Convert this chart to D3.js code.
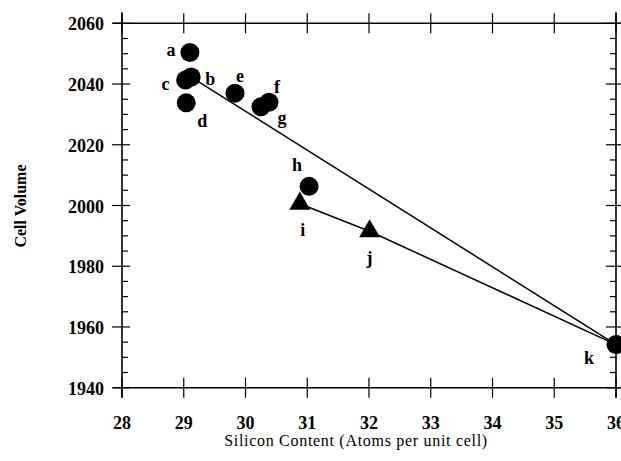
<!DOCTYPE html>
<html>
<head>
<meta charset="utf-8">
<script src="https://cdn.jsdelivr.net/npm/d3@7"></script>
<style>
  body { margin: 0; background: #fff; }
  svg { display: block; }
</style>
</head>
<body>
<svg id="chart" width="621" height="461"></svg>
<script>
// point data
const labels = ['a', 'b', 'c', 'd', 'e', 'f', 'g', 'h', 'i', 'j', 'k'];
const silicon = [29.10, 29.12, 29.03, 29.04, 29.83, 30.38, 30.25, 31.03, 30.88, 32.01, 36.0];
const volume = [2050.4, 2042.3, 2041.3, 2033.8, 2037.0, 2034.0, 2032.5, 2006.3, 2000.6, 1991.5, 1954.2];
const shapes = ['circle', 'circle', 'circle', 'circle', 'circle', 'circle', 'circle', 'circle', 'triangle', 'triangle', 'circle'];

// the two fitted lines, by point label
const lineB = ['b', 'k'];
const lineI = ['i', 'j', 'k'];

const xTicks = [28, 29, 30, 31, 32, 33, 34, 35, 36];
const yTicks = [1940, 1960, 1980, 2000, 2020, 2040, 2060];

// where each letter sits relative to its marker (px)
const labelOffsets = [[-19, -2], [19, 2], [-20, 4], [16, 18], [5, -17], [8, -15], [21, 11], [-12, -21], [3, 26], [0, 27], [-27, 13]];

const points = labels.map((l, i) => ({ label: l, x: silicon[i], y: volume[i], shape: shapes[i], off: labelOffsets[i] }));
const byLabel = (l) => points.find((p) => p.label === l);

const svg = d3.select('#chart');
const serif = '"Liberation Serif", "Times New Roman", serif';

const x = d3.scaleLinear().domain([28, 36]).range([122, 616]);
const y = d3.scaleLinear().domain([1940, 2060]).range([387.7, 23.3]);

const x0 = x.range()[0], x1 = x.range()[1];
const yb = y.range()[0], yt = y.range()[1];

const frame = svg.append('g').attr('stroke', '#000').attr('fill', 'none');

// axis lines (top and bottom run a bit left of the frame)
frame.append('line').attr('x1', x0 - 9).attr('x2', 621).attr('y1', yt).attr('y2', yt).attr('stroke-width', 1.6);
frame.append('line').attr('x1', x0 - 9).attr('x2', 621).attr('y1', yb).attr('y2', yb).attr('stroke-width', 1.6);
frame.append('line').attr('x1', x0).attr('x2', x0).attr('y1', yt - 11).attr('y2', yb + 10).attr('stroke-width', 1.6);
frame.append('line').attr('x1', x1).attr('x2', x1).attr('y1', yt - 11).attr('y2', yb + 10).attr('stroke-width', 1.6);

// major x ticks crossing top and bottom
xTicks.forEach((t) => {
  [yt, yb].forEach((yy) => {
    frame.append('line').attr('x1', x(t)).attr('x2', x(t)).attr('y1', yy - 10).attr('y2', yy + 10).attr('stroke-width', 1.2);
  });
});

// y ticks: major cross, minor inside
d3.range(1940, 2061, 5).forEach((t) => {
  const major = t % 20 === 0;
  frame.append('line').attr('x1', major ? x0 - 10 : x0).attr('x2', x0 + (major ? 8 : 6))
    .attr('y1', y(t)).attr('y2', y(t)).attr('stroke-width', 1.2);
  frame.append('line').attr('x1', x1 - (major ? 10 : 6)).attr('x2', major ? x1 + 8 : x1)
    .attr('y1', y(t)).attr('y2', y(t)).attr('stroke-width', 1.2);
});

// tick labels
svg.append('g').selectAll('text')
  .data(xTicks)
  .enter()
  .append('text')
  .attr('x', (d) => x(d))
  .attr('y', 429)
  .attr('text-anchor', 'middle')
  .style('font-family', serif)
  .style('font-weight', 'bold')
  .style('font-size', '18px')
  .text((d) => d);

svg.append('g').selectAll('text')
  .data(yTicks)
  .enter()
  .append('text')
  .attr('x', 104)
  .attr('y', (d) => y(d) + 7)
  .attr('text-anchor', 'end')
  .style('font-family', serif)
  .style('font-weight', 'bold')
  .style('font-size', '18px')
  .text((d) => d);

// axis titles
svg.append('text')
  .attr('x', 356)
  .attr('y', 446)
  .attr('text-anchor', 'middle')
  .style('font-family', serif)
  .style('font-size', '16px')
  .style('letter-spacing', '0.7px')
  .text('Silicon Content (Atoms per unit cell)');

svg.append('text')
  .attr('transform', 'translate(26, 206) rotate(-90)')
  .attr('text-anchor', 'middle')
  .style('font-family', serif)
  .style('font-weight', 'bold')
  .style('font-size', '16px')
  .text('Cell Volume');

// lines
const line = d3.line().x((d) => x(d.x)).y((d) => y(d.y));
[lineB, lineI].forEach((ls) => {
  svg.append('path')
    .attr('d', line(ls.map(byLabel)))
    .attr('fill', 'none')
    .attr('stroke', '#000')
    .attr('stroke-width', 1.5);
});

// markers
svg.append('g').selectAll('circle')
  .data(points.filter((p) => p.shape === 'circle'))
  .enter()
  .append('circle')
  .attr('cx', (d) => x(d.x))
  .attr('cy', (d) => y(d.y))
  .attr('r', 9.5)
  .attr('fill', '#000');

svg.append('g').selectAll('path')
  .data(points.filter((p) => p.shape === 'triangle'))
  .enter()
  .append('path')
  .attr('d', d3.symbol(d3.symbolTriangle, 190))
  .attr('transform', (d) => `translate(${x(d.x)}, ${y(d.y)})`)
  .attr('fill', '#000');

// point letters
svg.append('g').selectAll('text')
  .data(points)
  .enter()
  .append('text')
  .attr('x', (d) => x(d.x) + d.off[0])
  .attr('y', (d) => y(d.y) + d.off[1])
  .attr('text-anchor', 'middle')
  .attr('dominant-baseline', 'central')
  .style('font-family', serif)
  .style('font-weight', 'bold')
  .style('font-size', '18px')
  .text((d) => d.label);
</script>
</body>
</html>
